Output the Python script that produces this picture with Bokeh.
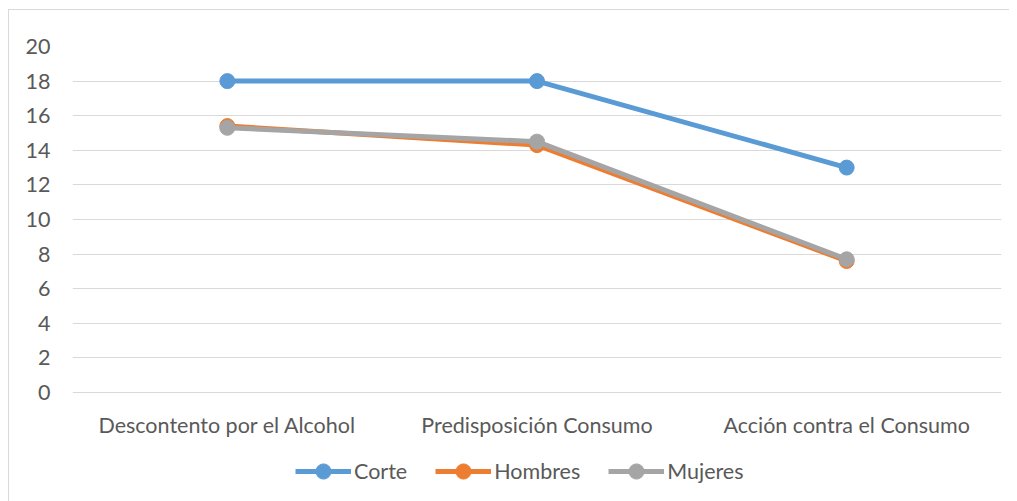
from bokeh.plotting import figure
from bokeh.layouts import column
from bokeh.models import Legend, LegendItem, FixedTicker, Range1d
from bokeh.embed import file_html
from bokeh.resources import INLINE

categories = ["Descontento por el Alcohol", "Predisposición Consumo", "Acción contra el Consumo"]
corte = [18, 18, 13]
hombres = [15.4, 14.3, 7.6]
mujeres = [15.3, 14.5, 7.7]
series_names = ["Corte", "Hombres", "Mujeres"]
colors = ["#5B9BD5", "#ED7D31", "#A5A5A5"]
y_ticks = [0, 2, 4, 6, 8, 10, 12, 14, 16, 18, 20]

FONT = "Lato"
TXT = "#595959"
FS = "21.5px"

p = figure(x_range=categories, y_range=Range1d(-0.06, 20), width=1000, height=430,
           output_backend="svg", toolbar_location=None,
           min_border_left=63, min_border_right=8, min_border_top=36, min_border_bottom=45)
p.outline_line_color = None
p.xgrid.grid_line_color = None
p.ygrid.grid_line_color = "#D9D9D9"
p.ygrid.grid_line_width = 1
p.yaxis.ticker = FixedTicker(ticks=y_ticks)
for ax in (p.xaxis[0], p.yaxis[0]):
    ax.axis_line_color = None
    ax.major_tick_line_color = None
    ax.minor_tick_line_color = None
    ax.major_label_text_font = FONT
    ax.major_label_text_font_size = FS
    ax.major_label_text_color = TXT
p.xaxis.major_label_standoff = 12
p.yaxis.major_label_standoff = 16

# legend strip below, same series drawn out of view as legend proxies
lg = figure(x_range=categories, y_range=Range1d(100, 101), width=1000, height=61,
            output_backend="svg", toolbar_location=None,
            min_border_left=0, min_border_right=0, min_border_top=0, min_border_bottom=0)
lg.outline_line_color = None
lg.axis.visible = False
lg.grid.visible = False

items = []
for name, vals, col in zip(series_names, [corte, hombres, mujeres], colors):
    p.line(categories, vals, line_color=col, line_width=5)
    p.scatter(categories, vals, size=15, fill_color=col, line_color=col)
    r1 = lg.line(categories, vals, line_color=col, line_width=5)
    r2 = lg.scatter(categories, vals, size=15, fill_color=col, line_color=col)
    items.append(LegendItem(label=name, renderers=[r1, r2]))

legend = Legend(items=items, orientation="horizontal", location=(223, 11),
                glyph_width=56, glyph_height=38, label_text_font=FONT,
                label_text_font_size=FS, label_text_color=TXT,
                border_line_color=None, background_fill_alpha=0,
                spacing=28, label_standoff=3, margin=0, padding=2)
lg.add_layout(legend, "center")

layout = column(p, lg, spacing=0, margin=(9, 0, 0, 8),
                styles={"border-left": "1px solid #D9D9D9", "border-top": "1px solid #D9D9D9"})
open("out.html", "w").write(file_html(layout, INLINE))
